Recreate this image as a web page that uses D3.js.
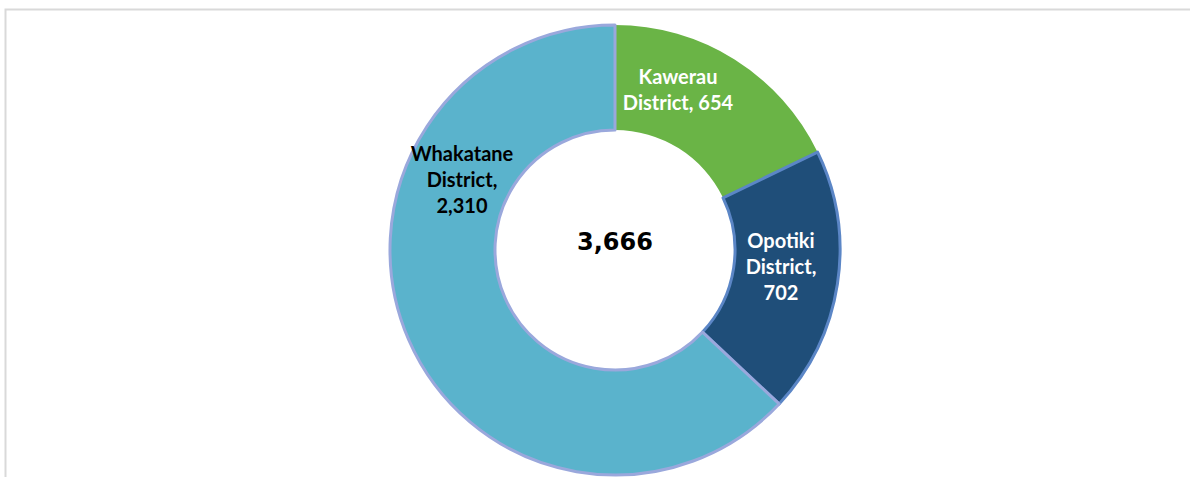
<!DOCTYPE html>
<html>
<head>
<meta charset="utf-8">
<script src="https://cdn.jsdelivr.net/npm/d3@7"></script>
<style>
  body { margin: 0; background: #fff; }
</style>
</head>
<body>
<div id="chart"></div>
<script>
const districts = ["Kawerau District", "Opotiki District", "Whakatane District"];
const counts = [654, 702, 2310];
const sliceColors = ["#6ab446", "#1f4e79", "#5ab3cc"];
const edgeColors = ["#6ab446", "#5b86c6", "#9aa8dc"];
const labelColors = ["#ffffff", "#ffffff", "#000000"];
const labelLines = [["Kawerau", "District, 654"], ["Opotiki", "District,", "702"], ["Whakatane", "District,", "2,310"]];

const layout = {
    width: 1190,
    height: 477,
    cx: 615,
    cy: 250,
    outer: 225,
    inner: 120,
    lineHeight: 26
};

// where excel put each label, relative to the centre
const labelShift = {
    "Kawerau District": [63, -160],
    "Opotiki District": [166, 17],
    "Whakatane District": [-153, -70]
};

let svg = d3.select("#chart").append("svg")
    .attr("width", layout.width)
    .attr("height", layout.height);

// chart area frame (runs off the page right and bottom)
svg.append("rect")
    .attr("x", 5.5)
    .attr("y", 9.5)
    .attr("width", 1300)
    .attr("height", 600)
    .attr("fill", "none")
    .attr("stroke", "#d9d9d9")
    .attr("stroke-width", 2);

let data = districts.map((d, i) => ({ name: d, value: counts[i], i: i }));

let pie = d3.pie().sort(null).value(d => d.value);
let arc = d3.arc().innerRadius(layout.inner).outerRadius(layout.outer);

let g = svg.append("g")
    .attr("transform", `translate(${layout.cx},${layout.cy})`);

let arcs = pie(data);

g.selectAll("path")
    .data(arcs)
    .join("path")
    .attr("d", arc)
    .attr("fill", d => sliceColors[d.data.i])
    .attr("stroke", d => edgeColors[d.data.i])
    .attr("stroke-width", d => d.data.i === 0 ? 0 : 3)
    .attr("stroke-linejoin", "round");

// labels
let labels = g.selectAll("text.lbl")
    .data(arcs)
    .join("text")
    .attr("class", "lbl")
    .attr("text-anchor", "middle")
    .attr("font-family", "Lato, 'Open Sans', sans-serif")
    .attr("font-weight", "bold")
    .attr("font-size", 20)
    .attr("fill", d => labelColors[d.data.i])
    .attr("transform", d => {
        let s = labelShift[d.data.name];
        return `translate(${s[0]},${s[1]})`;
    });

labels.each(function(d) {
    let lines = labelLines[d.data.i];
    let top = -(lines.length - 1) * layout.lineHeight / 2;
    d3.select(this).selectAll("tspan")
        .data(lines)
        .join("tspan")
        .attr("x", 0)
        .attr("y", (l, k) => top + k * layout.lineHeight)
        .attr("dy", "0.35em")
        .text(l => l);
});

// total in the hole
g.append("text")
    .attr("text-anchor", "middle")
    .attr("y", -8)
    .attr("dy", "0.35em")
    .attr("font-family", "'DejaVu Sans', Verdana, sans-serif")
    .attr("font-weight", "bold")
    .attr("font-size", 24)
    .attr("fill", "#000")
    .text(d3.format(",")(d3.sum(counts)));
</script>
</body>
</html>
